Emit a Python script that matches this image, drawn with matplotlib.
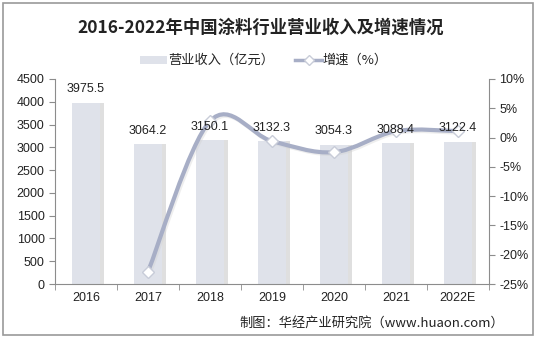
import numpy as np
import matplotlib.pyplot as plt
import matplotlib.transforms as mtransforms
from matplotlib.path import Path
from matplotlib.patches import PathPatch, Rectangle

plt.rcParams['font.family'] = ['Liberation Sans', 'Noto Sans CJK SC', 'DejaVu Sans']

# 数据
years = ['2016', '2017', '2018', '2019', '2020', '2021', '2022E']
revenue = [3975.5, 3064.2, 3150.1, 3132.3, 3054.3, 3088.4, 3122.4]
growth = [None, -22.9, 2.8, -0.6, -2.5, 1.1, 1.1]

bar_color = '#dfe2ea'
line_color = '#a7aec6'
axis_color = '#8c8c8c'
cjk = ['Noto Sans CJK SC', 'DejaVu Sans']

fig = plt.figure(figsize=(5.36, 3.39), dpi=100)
fig.patches.append(Rectangle((0.006, 0.012), 0.988, 0.979, transform=fig.transFigure,
                             fill=False, edgecolor='#9a9a9a', linewidth=1.2))

ax = fig.add_axes([0.1026, 0.1622, 0.8094, 0.6048])
x = np.arange(len(years))

# 柱子阴影
ax.bar(x + 0.06, revenue, width=0.45, color='#b8b8b8', alpha=0.45, zorder=1)
ax.bar(x, revenue, width=0.45, color=bar_color, zorder=2)

ax.set_xlim(-0.5, len(years) - 0.5)
ax.set_ylim(0, 4500)
ax.set_yticks(np.arange(0, 4501, 500))
ax.set_xticks(x)
ax.set_xticklabels(years)
ax.set_xticks(np.arange(-0.5, len(years)), minor=True)
ax.tick_params(axis='x', which='major', length=0, pad=6, labelsize=9, labelcolor='#222222')
ax.tick_params(axis='x', which='minor', length=4, color=axis_color)
ax.tick_params(axis='y', length=4, color=axis_color, labelsize=9, labelcolor='#222222')
for s in ['top', 'right']:
    ax.spines[s].set_visible(False)
for s in ['left', 'bottom']:
    ax.spines[s].set_color(axis_color)

ax2 = ax.twinx()
ax2.set_ylim(-25, 10)
ax2.set_yticks(np.arange(-25, 11, 5))
ax2.set_yticklabels([f'{t}%' for t in range(-25, 11, 5)])
ax2.tick_params(axis='y', length=4, color=axis_color, labelsize=9, labelcolor='#222222')
for s in ['top', 'left', 'bottom']:
    ax2.spines[s].set_visible(False)
ax2.spines['right'].set_color(axis_color)

# 平滑增速曲线（Catmull-Rom 转贝塞尔）
gx = np.array([i for i, g in enumerate(growth) if g is not None], dtype=float)
gy = np.array([g for g in growth if g is not None], dtype=float)
pts = np.column_stack([gx, gy])
verts = [tuple(pts[0])]
codes = [Path.MOVETO]
for i in range(len(pts) - 1):
    p0 = pts[i - 1] if i > 0 else pts[i]
    p1, p2 = pts[i], pts[i + 1]
    p3 = pts[i + 2] if i + 2 < len(pts) else pts[i + 1]
    c1 = p1 + (p2 - p0) / 6
    c2 = p2 - (p3 - p1) / 6
    verts += [tuple(c1), tuple(c2), tuple(p2)]
    codes += [Path.CURVE4] * 3
curve = Path(verts, codes)
shadow = ax2.transData + mtransforms.ScaledTranslation(0.015, -0.015, fig.dpi_scale_trans)
ax2.add_patch(PathPatch(curve, facecolor='none', edgecolor='#cfcfcf', linewidth=3,
                        alpha=0.35, zorder=3, transform=shadow))
ax2.add_patch(PathPatch(curve, facecolor='none', edgecolor=line_color, linewidth=3, zorder=4))
ax2.plot(gx, gy, linestyle='none', marker='D', markersize=6, markerfacecolor='white',
         markeredgecolor='#c8ccd8', markeredgewidth=1, zorder=5)

# 数据标签放在折线之上
for xi, v in zip(x, revenue):
    ax2.text(xi, v + 170, f'{v:.1f}', ha='center', va='bottom', fontsize=9,
             color='#222222', zorder=6, transform=ax.transData)

# 图例
leg_y = 0.823
fig.patches.append(Rectangle((0.262, leg_y - 0.012), 0.05, 0.024, transform=fig.transFigure,
                             facecolor=bar_color, edgecolor='none'))
fig.text(0.314, leg_y, '营业收入（亿元）', fontsize=9.5, va='center', ha='left',
         color='#222222', family=cjk)
fig.lines.append(plt.Line2D([0.551, 0.601], [leg_y, leg_y], transform=fig.transFigure,
                            color=line_color, linewidth=2.5))
fig.lines.append(plt.Line2D([0.576], [leg_y], transform=fig.transFigure, marker='D',
                            markersize=5, markerfacecolor='white', markeredgecolor='#c8ccd8'))
fig.text(0.602, leg_y, '增速（%）', fontsize=9.5, va='center', ha='left',
         color='#222222', family=cjk)

fig.text(0.486, 0.917, '2016-2022年中国涂料行业营业收入及增速情况', ha='center', va='center',
         fontsize=12.5, fontweight='bold', color='#222222', family=cjk)
fig.text(0.94, 0.047, '制图：华经产业研究院（www.huaon.com）', ha='right', va='center',
         fontsize=9.5, color='#222222', family=cjk)

fig.savefig('out.png', dpi=100)
